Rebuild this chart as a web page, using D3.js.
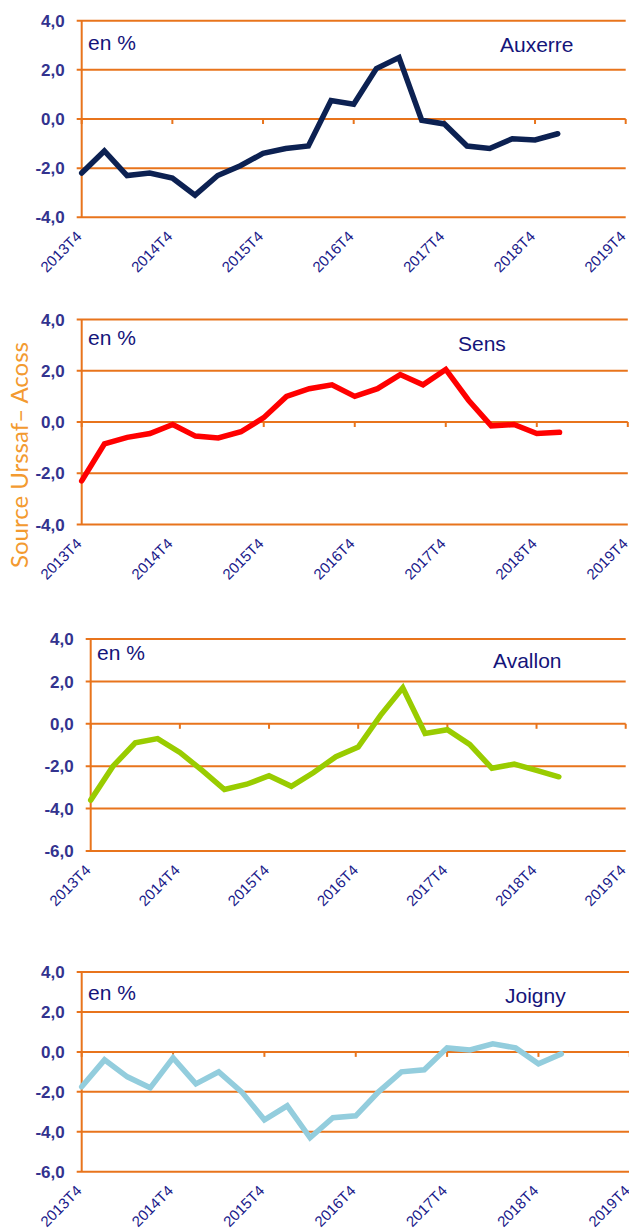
<!DOCTYPE html>
<html>
<head>
<meta charset="utf-8">
<script src="https://cdn.jsdelivr.net/npm/d3@7"></script>
<style>
  html, body { margin: 0; padding: 0; background: #ffffff; }
  svg { display: block; }
</style>
</head>
<body>
<svg id="chart" width="629" height="1228"></svg>
<script>
// ---- Data ----
const quarters = ["2013T4","2014T1","2014T2","2014T3","2014T4","2015T1","2015T2","2015T3","2015T4",
  "2016T1","2016T2","2016T3","2016T4","2017T1","2017T2","2017T3","2017T4",
  "2018T1","2018T2","2018T3","2018T4","2019T1","2019T2","2019T3","2019T4"];
const tickLabels = ["2013T4","2014T4","2015T4","2016T4","2017T4","2018T4","2019T4"];

const auxerre = [-2.2,-1.3,-2.3,-2.2,-2.4,-3.1,-2.3,-1.9,-1.4,-1.2,-1.1,0.75,0.6,2.05,2.5,-0.05,-0.2,-1.1,-1.2,-0.8,-0.85,-0.6];
const sens    = [-2.3,-0.85,-0.6,-0.45,-0.1,-0.55,-0.62,-0.38,0.17,1.0,1.3,1.45,1.0,1.3,1.85,1.45,2.05,0.85,-0.15,-0.1,-0.45,-0.4];
const avallon = [-3.6,-2.0,-0.9,-0.7,-1.35,-2.2,-3.1,-2.85,-2.45,-2.95,-2.3,-1.55,-1.1,0.4,1.7,-0.45,-0.28,-0.97,-2.1,-1.9,-2.2,-2.5];
const joigny  = [-1.75,-0.4,-1.25,-1.8,-0.3,-1.6,-1.0,-2.0,-3.4,-2.7,-4.3,-3.3,-3.2,-2.0,-1.0,-0.9,0.2,0.1,0.4,0.2,-0.6,-0.1];

const yTicksA = [4,2,0,-2,-4];
const yTicksB = [4,2,0,-2,-4,-6];

const unitLabel = "en %";
const sourceLabel = "Source Urssaf\u2013 Acoss";

// ---- Layout ----
const panels = [
  { name: "Auxerre", values: auxerre, color: "#0c2152", ticks: yTicksA, domain: [-4, 4],
    left: 81.7, right: 625.7, top: 20.7, bottom: 217.3, title: [500, 52], unit: [88, 50] },
  { name: "Sens", values: sens, color: "#ff0000", ticks: yTicksA, domain: [-4, 4],
    left: 81.7, right: 627.8, top: 319.5, bottom: 524.5, title: [458, 351], unit: [88, 345] },
  { name: "Avallon", values: avallon, color: "#99cc00", ticks: yTicksB, domain: [-6, 4],
    left: 90.7, right: 625.7, top: 639, bottom: 851, title: [493, 668], unit: [97, 660] },
  { name: "Joigny", values: joigny, color: "#93cddd", ticks: yTicksB, domain: [-6, 4],
    left: 81.7, right: 629.8, top: 972, bottom: 1171.7, title: [505, 1003], unit: [88, 1000] }
];

const orange = "#e8741c";
const svg = d3.select("#chart");

panels.forEach(p => {
  const g = svg.append("g");
  const x = d3.scalePoint().domain(quarters).range([p.left, p.right]);
  const y = d3.scaleLinear().domain(p.domain).range([p.bottom, p.top]);

  // horizontal gridlines (extending 5px left as ticks)
  g.append("g").selectAll("line").data(p.ticks).join("line")
    .attr("x1", p.left - 5).attr("x2", p.right)
    .attr("y1", d => y(d)).attr("y2", d => y(d))
    .attr("stroke", orange).attr("stroke-width", 2);

  // y axis line
  g.append("line")
    .attr("x1", p.left).attr("x2", p.left)
    .attr("y1", p.top).attr("y2", p.bottom)
    .attr("stroke", orange).attr("stroke-width", 2);

  // x axis ticks at zero line
  g.append("g").selectAll("line").data(tickLabels).join("line")
    .attr("x1", d => x(d)).attr("x2", d => x(d))
    .attr("y1", y(0)).attr("y2", y(0) + 5)
    .attr("stroke", orange).attr("stroke-width", 2);

  // y labels
  g.append("g").selectAll("text").data(p.ticks).join("text")
    .attr("x", p.left - 17).attr("y", d => y(d))
    .attr("dy", "0.36em")
    .attr("text-anchor", "end")
    .attr("font-family", "'Liberation Sans', Arial, sans-serif")
    .attr("font-weight", "bold").attr("font-size", 17)
    .attr("fill", "#33338f")
    .text(d => d3.format(".1f")(d).replace(".", ",").replace("−", "-"));

  // x labels rotated
  g.append("g").selectAll("text").data(tickLabels).join("text")
    .attr("transform", d => `translate(${x(d) + 1},${p.bottom + 20}) rotate(-45)`)
    .attr("text-anchor", "end")
    .attr("font-family", "'Liberation Sans', Arial, sans-serif")
    .attr("font-size", 15)
    .attr("fill", "#1a1a8a")
    .text(d => d);

  // line
  const line = d3.line()
    .x((d, i) => x(quarters[i]))
    .y(d => y(d));
  g.append("path")
    .datum(p.values)
    .attr("d", line)
    .attr("fill", "none")
    .attr("stroke", p.color)
    .attr("stroke-width", 5.5)
    .attr("stroke-linejoin", "miter")
    .attr("stroke-linecap", "round");

  // unit and title
  g.append("text")
    .attr("x", p.unit[0]).attr("y", p.unit[1])
    .attr("font-family", "'Liberation Sans', Arial, sans-serif")
    .attr("font-size", 21).attr("fill", "#14147a")
    .text(unitLabel);
  g.append("text")
    .attr("x", p.title[0]).attr("y", p.title[1])
    .attr("font-family", "'Liberation Sans', Arial, sans-serif")
    .attr("font-size", 21).attr("fill", "#14147a")
    .text(p.name);
});

// source text
svg.append("text")
  .attr("transform", "translate(28,455) rotate(-90)")
  .attr("text-anchor", "middle")
  .attr("font-family", "Lato, 'Open Sans', sans-serif")
  .attr("font-size", 24)
  .attr("fill", "#f39a30")
  .text(sourceLabel);
</script>
</body>
</html>
